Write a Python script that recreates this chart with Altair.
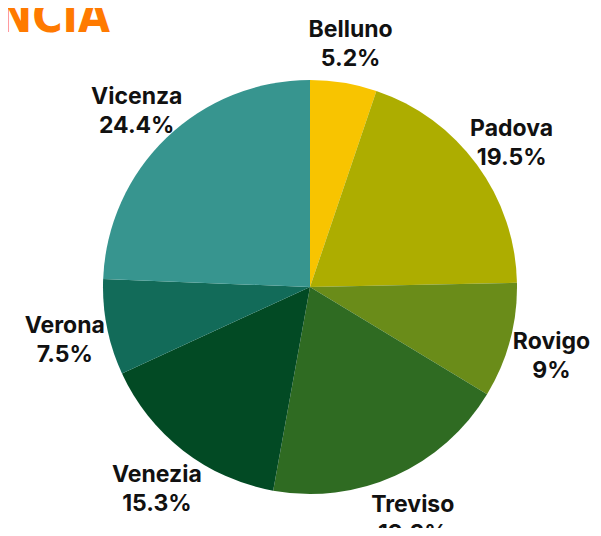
import altair as alt
import pandas as pd

provinces = ["Belluno", "Padova", "Rovigo", "Treviso", "Venezia", "Verona", "Vicenza"]
shares = [5.2, 19.5, 9, 19.2, 15.3, 7.5, 24.4]
share_labels = ["5.2%", "19.5%", "9%", "19.2%", "15.3%", "7.5%", "24.4%"]
colors = ["#F8C400", "#ADAD00", "#6A8C19", "#2F6B22", "#024A24", "#126B59", "#37958F"]
title_text = "PROVINCIA"

df = pd.DataFrame({
    "provincia": provinces,
    "quota": shares,
    "etichetta": [p + "\n" + s for p, s in zip(provinces, share_labels)],
    "ordine": list(range(len(provinces))),
})

CX, CY = 302, 279

base = alt.Chart(df).encode(
    theta=alt.Theta("quota:Q", stack=True),
    order=alt.Order("ordine:Q", sort="ascending"),
    x=alt.value(CX),
    y=alt.value(CY),
)

pie = base.mark_arc(outerRadius=207).encode(
    color=alt.Color("provincia:N",
                    scale=alt.Scale(domain=provinces, range=colors),
                    legend=None)
)

labels = base.mark_text(radius=250, dy=-10, font="Inter", fontWeight="bold", fontSize=23,
                        lineBreak="\n", color="#111111", lineHeight=29,
                        align="center", baseline="middle").encode(
    text="etichetta:N"
)

title = alt.Chart(pd.DataFrame({"t": [title_text]})).mark_text(
    font="DejaVu Sans Condensed", fontWeight="bold", fontSize=46,
    color="#FF7A00", align="right", baseline="alphabetic"
).encode(text="t:N", x=alt.value(102), y=alt.value(24))

chart = alt.layer(pie, labels, title).properties(
    width=585, height=520,
    autosize=alt.AutoSizeParams(type="none"),
    padding=0,
).configure_view(stroke=None)

chart.save("out.html", embed_options={"renderer": "svg", "actions": False})
